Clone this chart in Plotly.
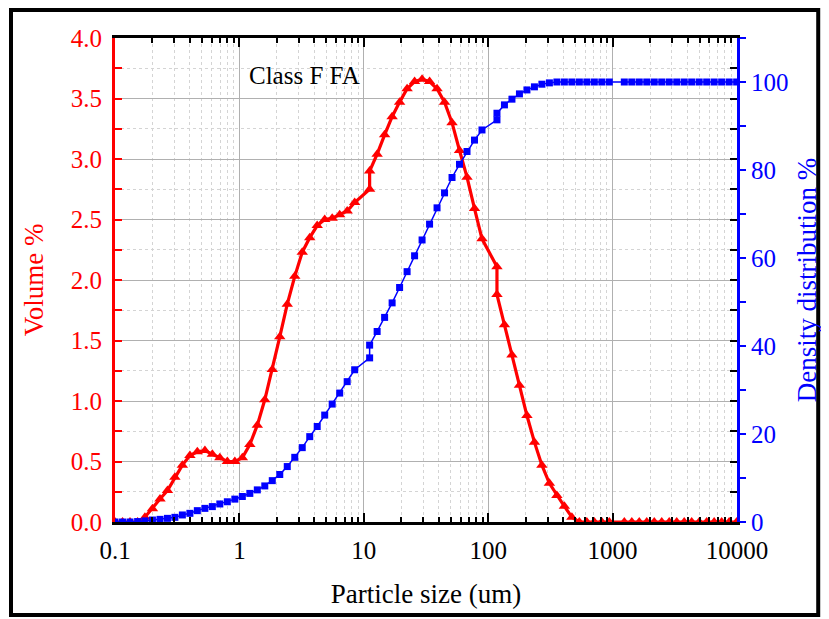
import plotly.graph_objects as go

# Particle size (um) - shared by both series
size_um = [0.1, 0.115, 0.132, 0.152, 0.174, 0.2, 0.23, 0.264, 0.303, 0.348,
           0.4, 0.459, 0.528, 0.606, 0.696, 0.8, 0.919, 1.056, 1.213, 1.393,
           1.6, 1.838, 2.111, 2.425, 2.786, 3.2, 3.676, 4.222, 4.85, 5.572,
           6.4, 7.352, 8.445, 11.14, 11.14, 12.8, 14.7, 16.89, 19.4, 22.29,
           25.6, 29.41, 33.78, 38.8, 44.57, 51.2, 58.81, 67.56, 77.61, 89.14,
           117.6, 117.6, 135.1, 155.2, 178.3, 204.8, 235.3, 270.2, 310.4, 356.6,
           409.6, 470.5, 540.5, 620.9, 713.2, 819.2, 941.0, 1242, 1427, 1638,
           1882, 2162, 2483, 2852, 3277, 3764, 4324, 4967, 5706, 6554,
           7529, 8649, 9935]

# Volume %  (left axis, red triangles)
volume_pct = [0, 0, 0, 0, 0.04, 0.11, 0.19, 0.26, 0.37, 0.47,
              0.55, 0.58, 0.59, 0.56, 0.53, 0.50, 0.50, 0.53, 0.64, 0.80,
              1.01, 1.26, 1.53, 1.80, 2.03, 2.23, 2.35, 2.45, 2.50, 2.51,
              2.54, 2.57, 2.64, 2.75, 2.90, 3.04, 3.20, 3.35, 3.47, 3.58,
              3.64, 3.66, 3.64, 3.58, 3.47, 3.30, 3.07, 2.85, 2.59, 2.34,
              2.11, 1.88, 1.63, 1.38, 1.13, 0.88, 0.66, 0.47, 0.32, 0.22,
              0.13, 0.04, 0, 0, 0, 0, 0, 0, 0, 0,
              0, 0, 0, 0, 0, 0, 0, 0, 0, 0,
              0, 0, 0]

# Density distribution % (right axis, blue squares)
density_pct = [0, 0, 0, 0.1, 0.25, 0.45, 0.6, 0.83, 1.06, 1.6,
               1.97, 2.58, 3.1, 3.5, 4.1, 4.6, 5.2, 5.8, 6.5, 7.3,
               8.2, 9.4, 10.8, 12.6, 14.7, 16.9, 19.4, 21.7, 24.3, 26.8,
               29.3, 31.9, 34.6, 37.3, 40.2, 43.3, 46.5, 49.8, 53.3, 56.9,
               60.5, 64.1, 67.7, 71.4, 74.8, 78.3, 81.3, 84.2, 86.8, 89.1,
               91.4, 92.9, 94.8, 96.1, 97.3, 98.2, 98.9, 99.5, 99.8, 100,
               100, 100, 100, 100, 100, 100, 100, 100, 100, 100,
               100, 100, 100, 100, 100, 100, 100, 100, 100, 100,
               100, 100, 100]

x_ticks = [0.1, 1, 10, 100, 1000, 10000]
x_ticktext = ["0.1", "1", "10", "100", "1000", "10000"]

FONT = "Liberation Serif"
RED = "#ff0000"
BLUE = "#0000ff"

fig = go.Figure()
fig.add_trace(go.Scatter(
    x=size_um, y=volume_pct, mode="lines+markers", yaxis="y",
    line=dict(color=RED, width=3.2),
    marker=dict(symbol="triangle-up", size=10, color=RED),
    showlegend=False, name="Volume %"))
fig.add_trace(go.Scatter(
    x=size_um, y=density_pct, mode="lines+markers", yaxis="y2",
    line=dict(color=BLUE, width=1.5),
    marker=dict(symbol="square", size=7, color=BLUE),
    showlegend=False, name="Density distribution %"))
# empty trace so the black mirrored ticks on the right side are drawn
fig.add_trace(go.Scatter(x=[], y=[], yaxis="y3", showlegend=False, hoverinfo="skip"))

# page has an 8px body margin: figure origin sits at page (8, 8)
OFF = 8
W, H = 829 - OFF, 619 - OFF
L, T = 115 - OFF, 38 - OFF
pw, ph = 628, 484
R, B = W - L - pw, H - T - ph


def px2paper_x(px_page):
    return (px_page - OFF - L) / pw


def px2paper_y(py_page):
    return (T + ph - (py_page - OFF)) / ph


fig.update_layout(
    width=W, height=H,
    margin=dict(l=L, r=R, t=T, b=B),
    paper_bgcolor="white", plot_bgcolor="white",
    font=dict(family=FONT, color="black"),
    xaxis=dict(
        type="log", range=[-1, 4],
        tickmode="array", tickvals=x_ticks, ticktext=x_ticktext,
        ticks="inside", ticklen=9, tickwidth=2, tickcolor="black",
        showline=True, linecolor="black", linewidth=3, mirror="ticks",
        showgrid=True, gridcolor="#b0b0b0", gridwidth=1,
        minor=dict(tickmode="array",
                   tickvals=[m * 10 ** e for e in range(-1, 4) for m in range(2, 10)],
                   ticks="inside", ticklen=5, tickwidth=2, tickcolor="black",
                   showgrid=True, gridcolor="#d4d4d4", griddash="dot", gridwidth=1),
        tickfont=dict(family=FONT, size=25, color="black"),
        ticklabelstandoff=4,
        title=dict(text="Particle size (um)", font=dict(family=FONT, size=27, color="black"),
                   standoff=22),
        zeroline=False,
    ),
    yaxis=dict(
        range=[0, 4], tickmode="linear", tick0=0, dtick=0.5, tickformat=".1f",
        ticks="inside", ticklen=7, tickwidth=2, tickcolor=RED,
        showline=True, linecolor=RED, linewidth=3,
        showgrid=True, gridcolor="#b0b0b0", gridwidth=1,
        minor=dict(dtick=0.25, ticks="inside", ticklen=7, tickwidth=2, tickcolor=RED,
                   showgrid=True, gridcolor="#d4d4d4", griddash="dot", gridwidth=1),
        tickfont=dict(family=FONT, size=25, color=RED),
        ticklabelstandoff=5,
        title=dict(text="Volume %", font=dict(family=FONT, size=27, color=RED), standoff=20),
        zeroline=False,
    ),
    yaxis2=dict(
        overlaying="y", side="right", anchor="x",
        range=[0, 110], tickmode="linear", tick0=0, dtick=20,
        ticks="outside", ticklen=6, tickwidth=2, tickcolor=BLUE,
        showline=True, linecolor=BLUE, linewidth=3,
        showgrid=False,
        minor=dict(dtick=10, ticks="outside", ticklen=6, tickwidth=2, tickcolor=BLUE,
                   showgrid=False),
        tickfont=dict(family=FONT, size=25, color=BLUE),
        title=dict(text="Density distribution %", font=dict(family=FONT, size=27, color=BLUE),
                   standoff=10),
        zeroline=False,
    ),
    yaxis3=dict(
        overlaying="y", side="right", anchor="x",
        range=[0, 4], tickmode="linear", tick0=0, dtick=0.25,
        ticks="inside", ticklen=7, tickwidth=2, tickcolor="black",
        showticklabels=False, showline=False, showgrid=False, zeroline=False,
    ),
    annotations=[dict(
        text="Class F FA", xref="paper", yref="paper",
        x=px2paper_x(306), y=px2paper_y(75), xanchor="center", yanchor="middle",
        showarrow=False, font=dict(family=FONT, size=25, color="black"))],
    shapes=[dict(
        type="rect", xref="paper", yref="paper",
        x0=px2paper_x(OFF + 2), x1=px2paper_x(825), y0=px2paper_y(615), y1=px2paper_y(OFF + 2),
        line=dict(color="black", width=4), fillcolor="rgba(0,0,0,0)", layer="above")],
)

fig.write_html("out.html")
